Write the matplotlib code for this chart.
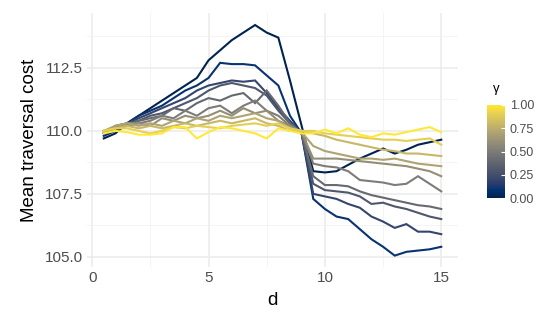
import numpy as np
import matplotlib
matplotlib.use("Agg")
import matplotlib.pyplot as plt
from matplotlib.ticker import MultipleLocator

plt.rcParams['font.family'] = ['Liberation Sans', 'DejaVu Sans']

d = [0.5, 1, 1.5, 2, 2.5, 3, 3.5, 4, 4.5, 5, 5.5, 6, 6.5, 7, 7.5,
     8, 8.5, 9, 9.5, 10, 10.5, 11, 11.5, 12, 12.5, 13, 13.5, 14, 14.5, 15]

gammas = [0.0, 0.1, 0.2, 0.3, 0.4, 0.5, 0.6, 0.7, 0.8, 0.9, 1.0]

cost_g00 = [109.7, 109.9, 110.3, 110.6, 110.9, 111.2, 111.5, 111.8, 112.1, 112.8, 113.2, 113.6, 113.9, 114.2, 113.9,
            113.7, 112.0, 110.2, 108.4, 108.35, 108.4, 108.65, 108.9, 109.1, 109.3, 109.1, 109.25, 109.45, 109.55, 109.65]
cost_g01 = [109.8, 110.0, 110.3, 110.6, 110.8, 111.0, 111.3, 111.6, 111.8, 112.1, 112.7, 112.65, 112.65, 112.6, 112.2,
            111.8, 110.6, 109.9, 107.3, 106.9, 106.6, 106.5, 106.1, 105.7, 105.4, 105.05, 105.2, 105.25, 105.3, 105.4]
cost_g02 = [109.9, 110.1, 110.3, 110.5, 110.7, 110.9, 111.1, 111.3, 111.6, 111.8, 111.9, 112.0, 111.95, 112.0, 111.5,
            110.9, 110.4, 109.9, 107.5, 107.4, 107.3, 107.1, 106.95, 106.6, 106.4, 106.15, 106.3, 106.0, 106.0, 105.9]
cost_g03 = [109.9, 110.2, 110.3, 110.4, 110.6, 110.7, 110.9, 111.1, 111.3, 111.6, 111.8, 111.9, 111.8, 111.7, 111.4,
            110.8, 110.3, 109.9, 107.9, 107.65, 107.6, 107.55, 107.4, 107.1, 107.15, 107.0, 106.9, 106.75, 106.6, 106.5]
cost_g04 = [110.0, 110.1, 110.2, 110.4, 110.5, 110.6, 110.9, 110.8, 111.1, 111.3, 111.2, 111.4, 111.5, 111.1, 111.6,
            111.0, 110.3, 109.9, 108.2, 107.85, 107.85, 107.8, 107.6, 107.45, 107.35, 107.25, 107.15, 107.05, 107.0, 106.9]
cost_g05 = [109.9, 110.1, 110.2, 110.3, 110.4, 110.6, 110.5, 110.8, 110.6, 110.9, 111.0, 110.7, 111.0, 111.2, 110.8,
            110.6, 110.2, 109.95, 108.7, 108.6, 108.55, 108.4, 108.05, 108.0, 107.95, 107.85, 107.9, 108.2, 107.9, 107.6]
cost_g06 = [109.9, 110.1, 110.3, 110.3, 110.2, 110.5, 110.4, 110.6, 110.5, 110.6, 110.8, 110.6, 110.9, 110.7, 110.8,
            110.4, 110.2, 109.95, 108.9, 108.9, 108.9, 108.85, 108.8, 108.75, 108.7, 108.65, 108.6, 108.5, 108.4, 108.2]
cost_g07 = [110.0, 110.2, 110.3, 110.2, 110.3, 110.2, 110.4, 110.3, 110.5, 110.4, 110.6, 110.5, 110.6, 110.7, 110.5,
            110.4, 110.1, 109.95, 109.4, 109.2, 109.1, 109.0, 108.9, 108.9, 108.85, 108.9, 108.8, 108.7, 108.65, 108.6]
cost_g08 = [110.0, 110.1, 110.2, 110.1, 110.2, 110.1, 110.2, 110.3, 110.2, 110.3, 110.4, 110.3, 110.4, 110.5, 110.3,
            110.2, 110.0, 110.0, 109.9, 109.8, 109.65, 109.55, 109.45, 109.35, 109.25, 109.2, 109.1, 109.1, 109.05, 109.0]
cost_g09 = [110.0, 110.1, 110.1, 110.0, 109.9, 110.0, 110.15, 110.1, 110.2, 110.15, 110.1, 110.2, 110.25, 110.3, 110.2,
            110.3, 110.1, 110.0, 110.0, 109.9, 109.85, 109.8, 109.75, 109.7, 109.65, 109.65, 109.6, 109.65, 109.7, 109.45]
cost_g10 = [109.9, 110.0, 109.95, 109.85, 109.85, 109.9, 110.15, 110.15, 109.7, 109.95, 110.15, 110.1, 110.0, 109.9, 109.7,
            110.1, 110.0, 109.9, 109.9, 110.05, 109.9, 110.1, 109.85, 109.75, 109.9, 109.85, 109.95, 110.05, 110.15, 109.95]

series = [cost_g00, cost_g01, cost_g02, cost_g03, cost_g04, cost_g05,
          cost_g06, cost_g07, cost_g08, cost_g09, cost_g10]

fig = plt.figure(figsize=(5.5, 3.2), dpi=100)
ax = fig.add_axes([0.158, 0.165, 0.675, 0.793])

cmap = plt.get_cmap("cividis")
norm = plt.Normalize(0, 1)
for g, ys in zip(gammas, series):
    ax.plot(d, ys, color=cmap(norm(g)), lw=1.5, solid_joinstyle="miter")

ax.set_xlim(-0.225, 15.725)
ax.set_ylim(104.59, 114.66)
ax.xaxis.set_major_locator(MultipleLocator(5))
ax.xaxis.set_minor_locator(MultipleLocator(2.5))
ax.yaxis.set_major_locator(MultipleLocator(2.5))
ax.yaxis.set_minor_locator(MultipleLocator(1.25))
ax.set_yticks([105, 107.5, 110, 112.5])
ax.set_yticklabels(["105.0", "107.5", "110.0", "112.5"])
ax.grid(which="major", color="#EBEBEB", lw=1.1)
ax.grid(which="minor", color="#F2F2F2", lw=0.6)
ax.set_axisbelow(True)
for s in ax.spines.values():
    s.set_visible(False)
ax.tick_params(which="both", length=0, labelsize=11, labelcolor="#4D4D4D", pad=3)
ax.set_xlabel("d", fontsize=13.5, labelpad=5)
ax.set_ylabel("Mean traversal cost", fontsize=13.5, labelpad=5)

# colour bar legend
cax = fig.add_axes([0.886, 0.381, 0.033, 0.291])
sm = matplotlib.cm.ScalarMappable(norm=norm, cmap=cmap)
cb = fig.colorbar(sm, cax=cax)
cb.outline.set_visible(False)
cb.set_ticks([0, 0.25, 0.5, 0.75, 1.0])
cb.set_ticklabels(["0.00", "0.25", "0.50", "0.75", "1.00"])
cax.tick_params(length=3, color="white", width=0.8, labelsize=9, labelcolor="#4D4D4D", pad=3, direction="in")
cax.set_title("γ", fontsize=9.5, pad=9)

fig.savefig("out.png", dpi=100)
